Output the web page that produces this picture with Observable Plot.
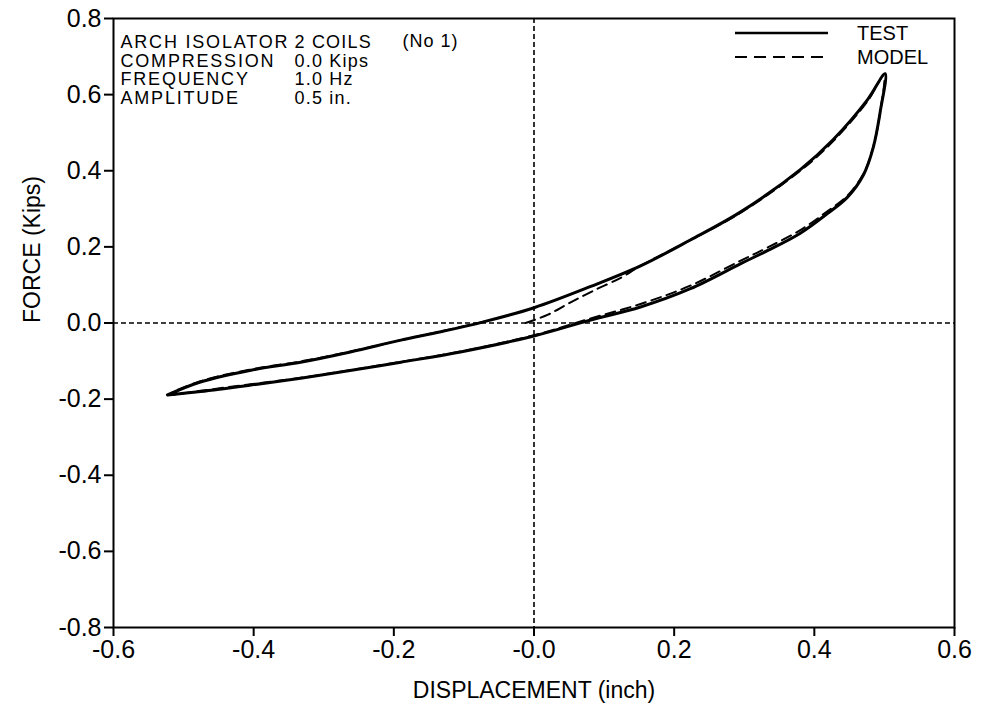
<!DOCTYPE html>
<html><head><meta charset="utf-8">
<script src="https://cdn.jsdelivr.net/npm/d3@7"></script>
<script src="https://cdn.jsdelivr.net/npm/@observablehq/plot@0.6"></script>
<style>
html,body{margin:0;padding:0;background:#fff;}
#chart{width:981px;height:704px;}
svg{font-family:"Liberation Sans",Arial,Helvetica,sans-serif;}
</style></head><body><div id="chart"></div>
<script>
// Tick values and labels
const xTicks = [-0.6, -0.4, -0.2, 0, 0.2, 0.4, 0.6];
const xTickLabels = ["-0.6", "-0.4", "-0.2", "-0.0", "0.2", "0.4", "0.6"];
const yTicks = [0.8, 0.6, 0.4, 0.2, 0, -0.2, -0.4, -0.6, -0.8];
const yTickLabels = ["0.8", "0.6", "0.4", "0.2", "0.0", "-0.2", "-0.4", "-0.6", "-0.8"];

// TEST loop: loading branch (left tip -> right tip) then unloading branch (back to left tip)
const testX = [-0.523, -0.476, -0.404, -0.333, -0.262, -0.190, -0.133, -0.072, 0.0, 0.081, 0.152, 0.223, 0.295, 0.380, 0.427, 0.476, 0.501,
               0.494, 0.484, 0.470, 0.447, 0.419, 0.380, 0.333, 0.295, 0.223, 0.152, 0.081, 0.0, -0.105, -0.190, -0.276, -0.333, -0.404, -0.476, -0.523];
const testY = [-0.189, -0.155, -0.124, -0.103, -0.076, -0.045, -0.023, 0.003, 0.040, 0.096, 0.150, 0.218, 0.292, 0.403, 0.482, 0.587, 0.655,
               0.555, 0.461, 0.389, 0.330, 0.288, 0.236, 0.190, 0.156, 0.090, 0.042, 0.008, -0.034, -0.076, -0.103, -0.129, -0.145, -0.163, -0.180, -0.189];

// MODEL loop: starts near origin, joins loading branch, then full cycle
const modelX = [-0.012, 0.02, 0.05, 0.085, 0.125, 0.152, 0.223, 0.295, 0.380, 0.427, 0.476, 0.499,
                0.494, 0.484, 0.470, 0.447, 0.419, 0.380, 0.333, 0.295, 0.223, 0.152, 0.081, 0.0, -0.105, -0.190, -0.276, -0.333, -0.404, -0.476, -0.520,
                -0.476, -0.404, -0.333, -0.262, -0.190, -0.133, -0.072];
const modelY = [0.0, 0.022, 0.052, 0.085, 0.120, 0.150, 0.218, 0.290, 0.400, 0.478, 0.583, 0.650,
                0.555, 0.462, 0.392, 0.334, 0.294, 0.244, 0.198, 0.164, 0.098, 0.050, 0.012, -0.032, -0.075, -0.102, -0.128, -0.144, -0.161, -0.178, -0.188,
                -0.153, -0.122, -0.101, -0.075, -0.045, -0.022, 0.003];

// Annotation texts
const annotLabels = ["ARCH ISOLATOR", "COMPRESSION", "FREQUENCY", "AMPLITUDE"];
const annotValues = ["2 COILS", "0.0 Kips", "1.0 Hz", "0.5 in."];
const annotExtra = "(No 1)";

// Legend
const legendNames = ["TEST", "MODEL"];
const legendDash = ["none", "12,7"];

const xLabel = "DISPLACEMENT (inch)";
const yLabel = "FORCE (Kips)";

const test = testX.map((x, i) => ({x, y: testY[i]}));
const model = modelX.map((x, i) => ({x, y: modelY[i]}));

const W = 981, H = 704, ML = 113, MR = 27, MT = 18, MB = 77;

const plot = Plot.plot({
  width: W, height: H,
  marginLeft: ML, marginRight: MR, marginTop: MT, marginBottom: MB,
  style: {background: "#fff", color: "#000", fontFamily: '"Liberation Sans", Arial, sans-serif', overflow: "visible"},
  x: {domain: [-0.6, 0.6]},
  y: {domain: [-0.8, 0.8]},
  marks: [
    Plot.ruleX([0], {stroke: "#000", strokeWidth: 1.6, strokeDasharray: "5,3"}),
    Plot.ruleY([0], {stroke: "#000", strokeWidth: 1.6, strokeDasharray: "5,3"}),
    Plot.line(model, {x: "x", y: "y", stroke: "#000", strokeWidth: 2, strokeDasharray: "10,6", curve: "catmull-rom"}),
    Plot.line(test, {x: "x", y: "y", stroke: "#000", strokeWidth: 3, curve: "catmull-rom"}),
    Plot.frame({stroke: "#000", strokeWidth: 2}),
    Plot.axisX({ticks: xTicks, tickFormat: d => xTickLabels[xTicks.indexOf(d)], tickSize: 9, tickPadding: 4, fontSize: 25, label: null, strokeWidth: 2}),
    Plot.axisY({ticks: yTicks, tickFormat: d => yTickLabels[yTicks.indexOf(d)], tickSize: 9, tickPadding: 3, fontSize: 25, label: null, strokeWidth: 2}),
    Plot.text([xLabel], {frameAnchor: "bottom", dy: 70, lineAnchor: "bottom", fontSize: 23}),
    Plot.text([yLabel], {frameAnchor: "left", dx: -81, rotate: -90, lineAnchor: "middle", fontSize: 23}),
    Plot.text([annotLabels.join("\n")], {frameAnchor: "top-left", dx: 7, dy: 16, lineAnchor: "top", textAnchor: "start", fontSize: 18, lineHeight: 1.04}),
    Plot.text([annotValues.join("\n")], {frameAnchor: "top-left", dx: 181, dy: 16, lineAnchor: "top", textAnchor: "start", fontSize: 18, lineHeight: 1.04}),
    Plot.text([annotExtra], {frameAnchor: "top-left", dx: 289, dy: 16, lineAnchor: "top", textAnchor: "start", fontSize: 18})
  ]
});

document.getElementById("chart").appendChild(plot);

// Widen the annotation lettering a little, as in the scanned original
d3.select(plot).selectAll("text").each(function() {
  const t = this.textContent;
  if (t.startsWith("ARCH")) d3.select(this).attr("letter-spacing", "1.8px");
  else if (t.startsWith("2 COILS")) d3.select(this).attr("letter-spacing", "1.2px");
  else if (t === annotExtra) d3.select(this).attr("letter-spacing", "1px");
});

// Legend drawn into the plot's SVG
const svg = d3.select(plot);
const lg = svg.append("g").attr("class", "legend").attr("text-anchor", "start");
legendNames.forEach((name, i) => {
  const yy = 33 + i * 24;
  lg.append("line").attr("x1", 735).attr("x2", 828).attr("y1", yy).attr("y2", yy)
    .attr("stroke", "#000").attr("stroke-width", i === 0 ? 2.4 : 2)
    .attr("stroke-dasharray", legendDash[i]);
  lg.append("text").attr("x", 857).attr("y", yy + 7).attr("font-size", 20).attr("fill", "#000")
    .attr("text-anchor", "start").text(name);
});
</script>
</body></html>
